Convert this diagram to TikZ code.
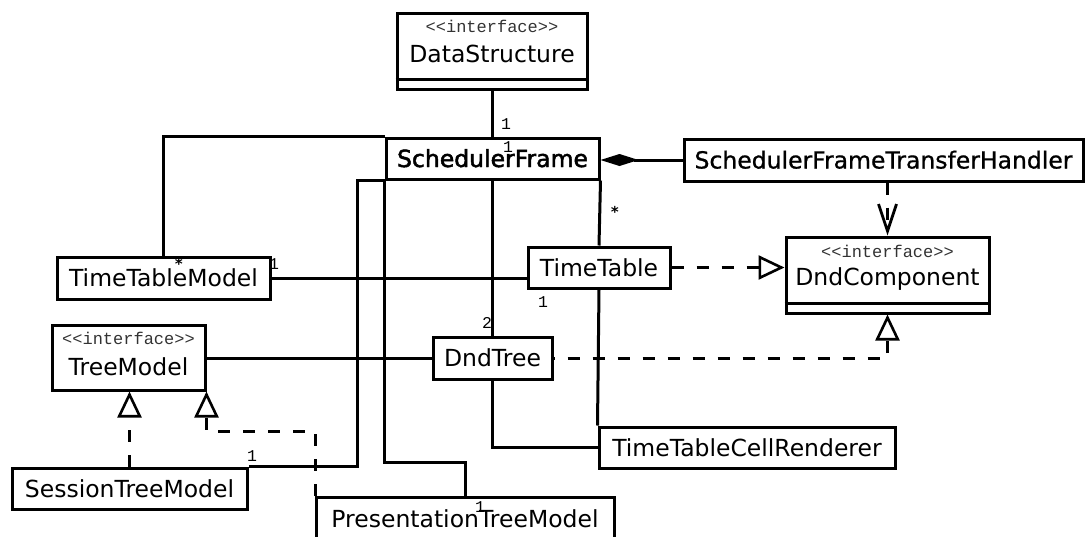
\documentclass[tikz,border=0pt]{standalone}
\usepackage{fontspec}
\usetikzlibrary{arrows.meta}
\newfontfamily\clsfont{DejaVu Sans}
\newfontfamily\clsheavy[FakeBold=2]{DejaVu Sans}
\newfontfamily\clssemi[FakeBold=0.8]{DejaVu Sans}
\newfontfamily\stereofont{Liberation Mono}
\newfontfamily\starfont{DejaVu Sans Mono}

\tikzset{
  uml/.style={draw, line width=3pt, rectangle, inner sep=0pt,
    font=\clsfont\fontsize{23.5}{28}\selectfont, text height=17pt, text depth=0pt},
  box/.style n args={2}{uml, minimum width=#1pt, minimum height=#2pt},
  heavy/.style={font=\clsheavy\fontsize{23.5}{28}\selectfont},
  semi/.style={font=\clssemi\fontsize{23.5}{28}\selectfont},
  cname/.style={inner sep=0pt, font=\clsfont\fontsize{23.5}{28}\selectfont,
    text height=17pt, text depth=0pt},
  stereo/.style={inner sep=0pt, text=black!80,
    font=\stereofont\fontsize{17}{17}\selectfont, text height=10.5pt, text depth=0pt},
  mult/.style={inner sep=0pt, font=\stereofont\fontsize{16.5}{16.5}\selectfont},
  many/.style={inner sep=0pt, font=\starfont\bfseries\fontsize{15}{15}\selectfont},
  conn/.style={line width=3pt},
  dashedline/.style={line width=3pt, dash pattern=on 12pt off 13pt},
  realize/.style={-{Triangle[open, length=26pt, width=24pt, line width=2.6pt]}},
  depend/.style={-{Straight Barb[length=27pt, width=18pt, line width=2.8pt]}},
  compose/.style={-{Diamond[length=38pt, width=12pt]}}
}

\begin{document}
\begin{tikzpicture}[x=1pt, y=-1pt]
\useasboundingbox (0,0) rectangle (1085,536);
\clip (0,0) rectangle (1085,536);

% classes
\node[box={190}{76}] (ds) at (492,51) {};
\node[stereo] at (492,27.5) {{<}{<}interface{>}{>}};
\node[cname] at (492,53.5) {DataStructure};
\draw[conn] ([yshift=11pt]ds.south west) -- ([yshift=11pt]ds.south east);

\node[box={213}{41}, heavy] (sf) at (492.5,158.5) {SchedulerFrame};
\node[box={399}{42}, semi] (sfth) at (883.5,160) {SchedulerFrameTransferHandler};

\node[box={213}{42}] (ttm) at (163.5,278) {TimeTableModel};
\node[box={142}{41}] (tt) at (599,267.5) {TimeTable};

\node[box={203}{76}] (dc) at (887.5,275) {};
\node[stereo] at (887.5,252) {{<}{<}interface{>}{>}};
\node[cname] at (887.5,277) {DndComponent};
\draw[conn] ([yshift=11pt]dc.south west) -- ([yshift=11pt]dc.south east);

\node[box={153}{65}] (tm) at (128.5,357.5) {};
\node[stereo] at (128.5,339) {{<}{<}interface{>}{>}};
\node[cname] at (128.5,366.5) {TreeModel};

\node[box={119}{42}] (dt) at (492.5,358) {DndTree};
\node[box={235}{41}] (stm) at (129.5,488.5) {SessionTreeModel};
\node[box={298}{44}] (ptm) at (465,519) {PresentationTreeModel};
\node[box={296}{41}] (ttcr) at (747,447.5) {TimeTableCellRenderer};

% associations
\draw[conn] (ds.south) -- (ds.south |- sf.north);
\draw[conn] (ttm.north) |- (sf.north west);
\draw[conn] (sf.south west) -- ++(-27,0) |- (stm.north east);
\draw[conn] (sf.south west) |- ([yshift=33pt]ptm.north) -- (ptm.north);
\draw[conn] (sf.south) -- (dt.north);
\draw[conn] (sf.south east) -- (tt.north);
\draw[conn] (tt.south) -- (ttcr.north west);
\draw[conn] (ttm.east) -- (ttm.east -| tt.west);
\draw[conn] (tm.east |- dt.west) -- (dt.west);
\draw[conn] (dt.south) |- (ttcr.west);
\draw[conn, compose] (sfth.west) -- (sfth.west -| sf.east);

% dependency and realizations
\draw[dashedline, depend] (dc.north |- sfth.south) -- (dc.north);
\draw[dashedline, realize] (tt.east) -- (tt.east -| dc.west);
\draw[dashedline, realize, dash phase=11pt] (dt.east) -| (dc.south);
\draw[dashedline, realize] (stm.north) -- (stm.north |- tm.south);
\draw[dashedline, realize] ([xshift=1pt]ptm.north west) -- ++(0,-64) -| (tm.south east);

% multiplicities
\node[mult] at (506,124) {1};
\node[mult] at (508,147) {1};
\node[many] at (615,212) {*};
\node[many] at (179,264) {*};
\node[mult] at (274,264) {1};
\node[mult] at (543,302) {1};
\node[mult] at (487,323) {2};
\node[mult] at (252,456) {1};
\node[mult] at (480,507) {1};
\end{tikzpicture}
\end{document}
